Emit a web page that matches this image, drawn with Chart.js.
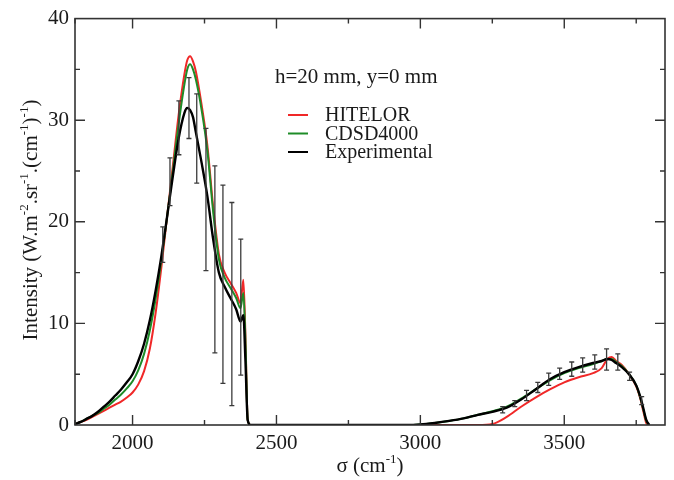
<!DOCTYPE html>
<html>
<head>
<meta charset="utf-8">
<title>Spectre d'émission</title>
<script src="https://cdn.jsdelivr.net/npm/chart.js@4.4.1/dist/chart.umd.min.js"></script>
<style>
  html, body { margin: 0; padding: 0; background: #fff; }
  #spectrum { display: block; }
</style>
</head>
<body>
<canvas id="spectrum" width="674" height="480"></canvas>
<script>
// wavenumber grid (cm-1), shared by the three spectra
const sigma = [
  1800, 1820, 1840, 1860, 1880, 1900, 1920, 1940, 1960, 1980,
  2000, 2020, 2040, 2060, 2080, 2100, 2120, 2140, 2160, 2180,
  2190, 2200, 2210, 2220, 2240, 2260, 2280, 2300, 2320, 2340,
  2360, 2375, 2385, 2392, 2400, 2410,
  2950, 3000, 3050, 3100, 3150, 3200, 3250, 3300, 3350, 3400,
  3450, 3500, 3550, 3600, 3630, 3650, 3665, 3680, 3700, 3725,
  3750, 3765, 3775, 3785, 3795
];

const hitelor = [
  0.1, 0.3, 0.5, 0.8, 1.1, 1.4, 1.7, 2.0, 2.3, 2.7,
  3.2, 4.0, 5.3, 7.5, 11.0, 15.5, 20.5, 25.5, 30.5, 34.5,
  35.9, 36.3, 35.8, 34.8, 31.5, 27.5, 21.5, 16.8, 15.0, 14.0,
  13.0, 12.0, 14.3, 9.0, 0.5, 0,
  0, 0, 0, 0, 0, 0, 0.1, 0.8, 1.8, 2.7,
  3.5, 4.2, 4.7, 5.1, 5.6, 6.5, 6.7, 6.3, 5.9, 5.0,
  3.8, 2.5, 1.3, 0.2, 0
];

const cdsd4000 = [
  0.1, 0.3, 0.6, 0.9, 1.2, 1.6, 2.0, 2.5, 3.0, 3.6,
  4.3, 5.4, 7.0, 9.3, 12.4, 16.2, 20.5, 25.0, 29.6, 33.5,
  35.0, 35.5, 35.0, 34.0, 31.0, 27.0, 21.0, 16.3, 14.5, 13.5,
  12.5, 11.5, 13.0, 8.5, 0.5, 0,
  0, 0.05, 0.2, 0.4, 0.65, 1.0, 1.35, 1.8, 2.6, 3.5,
  4.4, 5.1, 5.6, 6.0, 6.3, 6.5, 6.5, 6.2, 5.8, 5.0,
  3.9, 2.6, 1.5, 0.4, 0
];

const experimental = [
  0.1, 0.3, 0.6, 0.9, 1.3, 1.8, 2.3, 2.9, 3.5, 4.2,
  5.0, 6.3, 8.0, 10.3, 13.2, 16.6, 20.5, 24.5, 28.2, 30.7,
  31.2, 31.0, 30.3, 28.8, 25.8, 22.5, 18.3, 15.0, 13.6, 12.5,
  11.4, 10.2, 10.8, 6.5, 0.5, 0,
  0, 0.05, 0.2, 0.4, 0.65, 1.0, 1.3, 1.7, 2.5, 3.5,
  4.5, 5.2, 5.7, 6.1, 6.3, 6.5, 6.4, 6.1, 5.7, 5.0,
  3.9, 2.7, 1.6, 0.5, 0
];

// measurement uncertainty on the experimental spectrum
const errSigma = [2105, 2130, 2161, 2196, 2223, 2255, 2286, 2314, 2345, 2376,
  3286, 3328, 3369, 3408, 3446, 3484, 3526, 3564, 3606, 3647, 3686, 3727, 3769];
const errLow = [16.0, 21.6, 26.6, 28.2, 23.8, 15.2, 7.1, 4.1, 1.9, 4.9,
  1.2, 1.8, 2.4, 3.2, 3.9, 4.5, 4.8, 5.2, 5.5, 5.4, 5.4, 4.4, 2.0];
const errHigh = [19.5, 26.3, 31.9, 34.2, 32.6, 29.2, 25.5, 23.6, 21.9, 18.3,
  1.8, 2.4, 3.4, 4.2, 5.1, 5.6, 6.2, 6.6, 6.9, 7.5, 7.0, 5.2, 2.8];

const xTicks = [2000, 2500, 3000, 3500];
const xMinorTicks = [1800, 2250, 2750, 3250, 3750];
const yTicks = [0, 10, 20, 30, 40];
const yMinorTicks = [5, 15, 25, 35];

const seriesNames = ["HITELOR", "CDSD4000", "Experimental"];
const seriesColors = ["#f02828", "#1e8c28", "#000000"];
const legendTitle = "h=20 mm, y=0 mm";

const SERIF = '"Liberation Serif", "Times New Roman", serif';

function points(values) {
  return sigma.map((s, i) => ({ x: s, y: values[i] }));
}

// draws a run of text with raised exponents: parts = [[text, isSup], ...]
function drawRich(ctx, parts, x, y, align) {
  const widths = parts.map(p => {
    ctx.font = p[1] ? "13px " + SERIF : "21px " + SERIF;
    return ctx.measureText(p[0]).width;
  });
  const total = widths.reduce((a, b) => a + b, 0);
  let cx = align === "center" ? x - total / 2 : x;
  ctx.textAlign = "left";
  ctx.textBaseline = "alphabetic";
  parts.forEach((p, i) => {
    ctx.font = p[1] ? "13px " + SERIF : "21px " + SERIF;
    ctx.fillText(p[0], cx, p[1] ? y - 9 : y);
    cx += widths[i];
  });
}

const graceFrame = {
  id: "graceFrame",
  afterDatasetsDraw(chart) {
    const { ctx, chartArea, scales } = chart;
    const xs = scales.x, ys = scales.y;
    ctx.save();
    ctx.beginPath();
    ctx.rect(chartArea.left, chartArea.top, chartArea.right - chartArea.left, chartArea.bottom - chartArea.top);
    ctx.clip();
    ctx.strokeStyle = "#3a3a3a";
    ctx.lineWidth = 1.3;
    errSigma.forEach((s, i) => {
      const px = xs.getPixelForValue(s);
      const y1 = ys.getPixelForValue(errLow[i]);
      const y2 = ys.getPixelForValue(errHigh[i]);
      ctx.beginPath();
      ctx.moveTo(px, y1); ctx.lineTo(px, y2);
      ctx.moveTo(px - 2.5, y1); ctx.lineTo(px + 2.5, y1);
      ctx.moveTo(px - 2.5, y2); ctx.lineTo(px + 2.5, y2);
      ctx.stroke();
    });
    ctx.restore();
  },
  afterDraw(chart) {
    const { ctx, chartArea: a, scales } = chart;
    const xs = scales.x, ys = scales.y;
    ctx.save();
    ctx.strokeStyle = "#333";
    ctx.lineWidth = 1.6;
    ctx.strokeRect(a.left, a.top, a.right - a.left, a.bottom - a.top);

    // inward ticks on all four sides
    ctx.lineWidth = 1.4;
    ctx.beginPath();
    const tickX = (v, len) => {
      const px = xs.getPixelForValue(v);
      ctx.moveTo(px, a.bottom); ctx.lineTo(px, a.bottom - len);
      ctx.moveTo(px, a.top); ctx.lineTo(px, a.top + len);
    };
    const tickY = (v, len) => {
      const py = ys.getPixelForValue(v);
      ctx.moveTo(a.left, py); ctx.lineTo(a.left + len, py);
      ctx.moveTo(a.right, py); ctx.lineTo(a.right - len, py);
    };
    xTicks.forEach(v => tickX(v, 10));
    xMinorTicks.forEach(v => tickX(v, 5));
    yTicks.slice(1, -1).forEach(v => tickY(v, 10));
    yMinorTicks.forEach(v => tickY(v, 5));
    ctx.stroke();

    ctx.fillStyle = "#1a1a1a";
    // axis titles
    drawRich(ctx, [["\u03c3 (cm", 0], ["-1", 1], [")", 0]], (a.left + a.right) / 2, 472, "center");
    ctx.save();
    ctx.translate(37, 220);
    ctx.rotate(-Math.PI / 2);
    drawRich(ctx, [["Intensity (W.m", 0], ["-2", 1], [".sr", 0], ["-1", 1], [".(cm", 0],
      ["-1", 1], [")", 0], ["-1", 1], [")", 0]], 0, 0, "center");
    ctx.restore();

    // legend inside the plot
    ctx.font = "21px " + SERIF;
    ctx.textAlign = "left";
    ctx.textBaseline = "alphabetic";
    ctx.fillText(legendTitle, 275, 83);
    ctx.font = "20px " + SERIF;
    ctx.textBaseline = "middle";
    seriesNames.forEach((name, i) => {
      const y = 115 + i * 18.5;
      ctx.strokeStyle = seriesColors[i];
      ctx.lineWidth = 2;
      ctx.beginPath();
      ctx.moveTo(288, y); ctx.lineTo(308, y);
      ctx.stroke();
      ctx.fillText(name, 325, y + 1);
    });
    ctx.restore();
  }
};

const datasets = [hitelor, cdsd4000, experimental].map((vals, i) => ({
  label: seriesNames[i],
  data: points(vals),
  borderColor: seriesColors[i],
  borderWidth: i === 2 ? 2.4 : 2,
  pointRadius: 0,
  cubicInterpolationMode: "monotone",
  order: 2 - i
}));

new Chart(document.getElementById("spectrum"), {
  type: "line",
  data: { datasets },
  options: {
    responsive: false,
    animation: false,
    devicePixelRatio: 1,
    layout: { padding: { left: 0, top: 14, right: 9, bottom: 0 } },
    plugins: { legend: { display: false }, tooltip: { enabled: false } },
    scales: {
      x: {
        type: "linear",
        min: 1800,
        max: 3850,
        grid: { display: false, drawTicks: false },
        border: { display: false },
        afterBuildTicks: s => { s.ticks = xTicks.map(v => ({ value: v })); },
        afterFit: s => { s.height = 55; },
        ticks: { padding: 6, color: "#1a1a1a", font: { family: SERIF, size: 21 }, maxRotation: 0, callback: v => String(v) }
      },
      y: {
        min: 0,
        max: 40,
        grid: { display: false, drawTicks: false },
        border: { display: false },
        afterBuildTicks: s => { s.ticks = yTicks.map(v => ({ value: v })); },
        afterFit: s => { s.width = 75; },
        ticks: { padding: 6, color: "#1a1a1a", font: { family: SERIF, size: 21 }, callback: v => String(v) }
      }
    }
  },
  plugins: [graceFrame]
});
</script>
</body>
</html>
